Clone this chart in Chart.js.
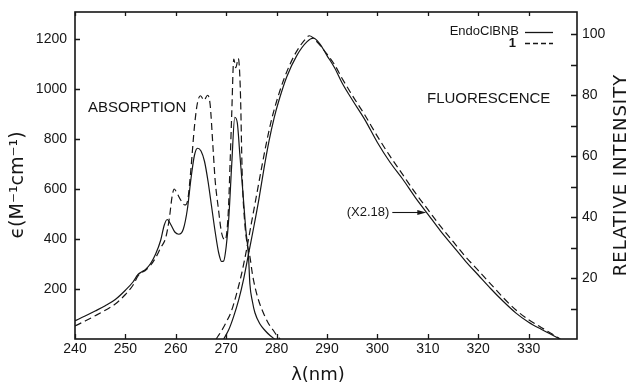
<!DOCTYPE html>
<html>
<head>
<meta charset="utf-8">
<script src="https://cdn.jsdelivr.net/npm/chart.js@4"></script>
<style>
  html, body { margin: 0; padding: 0; background: #fff; }
  #chart { display: block; }
</style>
</head>
<body>
<canvas id="chart" width="631" height="383"></canvas>
<script>
// absorption, EndoClBNB (solid) and 1 (dashed), epsilon in M^-1 cm^-1
const absSolidNm  = [240, 242, 244, 246, 248, 250, 251.5, 252.5, 253.2, 254, 255, 256, 257, 257.7, 258.3, 259, 259.8, 260.6, 261.5, 262.3, 263, 263.7, 264.3, 265, 265.7, 266.4, 267.1, 267.8, 268.5, 269.1, 269.5, 270, 270.5, 271.1, 271.7, 272.2, 272.7, 273.3, 273.9, 274.4, 274.7, 275.2, 275.7, 276.7, 277.7, 278.7, 279.6];
const absSolidEps = [73, 92, 112, 133, 158, 195, 228, 258, 268, 278, 302, 340, 395, 455, 478, 458, 428, 419, 440, 520, 640, 735, 763, 752, 710, 630, 530, 430, 345, 310, 312, 370, 480, 700, 887, 865, 740, 590, 436, 340, 220, 150, 105, 60, 34, 14, 0];

const absDashNm  = [240, 242, 244, 246, 248, 250, 251.5, 252.5, 253.2, 254, 255, 256, 257, 258, 258.7, 259.3, 259.7, 260.2, 261, 261.8, 262.4, 263, 263.7, 264.3, 264.9, 265.6, 266.3, 266.8, 267.4, 267.8, 268.4, 269.1, 269.8, 270.4, 270.8, 271.1, 271.5, 271.9, 272.4, 272.8, 273.2, 273.7, 274.2, 274.7, 275.2, 275.7, 276.5, 277.4, 278.3, 279.3, 280, 280.7];
const absDashEps = [52, 72, 93, 115, 140, 178, 215, 252, 265, 275, 295, 325, 365, 405, 480, 575, 600, 585, 555, 536, 560, 680, 850, 945, 973, 955, 975, 940, 760, 636, 529, 423, 396, 503, 720, 903, 1120, 1085, 1122, 1000, 640, 460, 375, 330, 260, 209, 150, 103, 65, 36, 15, 0];

// fluorescence, relative intensity
const fluSolidNm  = [269.5, 270.5, 271.5, 272.5, 273.5, 274.5, 275.5, 276.5, 277.5, 278.5, 279.5, 280.5, 282, 284, 286, 287.3, 288.5, 290, 291.5, 293, 295, 297.5, 300, 302.5, 305, 307.5, 310, 312.5, 315, 317.5, 320, 322.5, 325, 327.5, 330, 332.5, 334.5, 336.2];
const fluSolidInt = [0, 3, 7.5, 13, 20, 28.5, 37, 46, 56, 65, 72.5, 78.5, 86, 93, 97.5, 98.7, 97, 93, 89, 84, 78.5, 72, 64.5, 58, 52.5, 46.5, 41, 35.5, 30.5, 25.5, 21, 16.5, 12.3, 8.5, 5.5, 3.2, 1.5, 0];

const fluDashNm  = [268, 269, 270, 271, 272, 273, 274, 275, 276, 277, 278, 279, 280, 281.5, 283.5, 285.5, 286.5, 288, 290, 291.5, 293, 295, 297.5, 300, 302.5, 305, 307.5, 310, 312.5, 315, 317.5, 320, 322.5, 325, 327.5, 330, 332.5, 334.5, 336.3];
const fluDashInt = [0, 2.5, 5.5, 9, 14.5, 21, 29, 38, 47, 56, 64.5, 72, 78, 85.5, 93, 98, 99.5, 97.5, 93.5, 90, 85.5, 80, 73.5, 66.5, 60, 54, 48, 42.5, 37, 32, 27, 22.5, 18, 13.5, 9.5, 6.3, 3.8, 1.8, 0];

// axis ticks
const xTicks = [240, 250, 260, 270, 280, 290, 300, 310, 320, 330];
const leftTicks = [200, 400, 600, 800, 1000, 1200];
const rightTicks = [10, 20, 30, 40, 50, 60, 70, 80, 90, 100];
const rightLabels = [20, 40, 60, 80, 100];

const seriesNames = ['EndoClBNB', '1'];
const arrowAt = { nm: 309.7, val: 41.6, label: '(X2.18)' };

function pts(xs, ys) {
  return xs.map(function(x, i) { return { x: x, y: ys[i] }; });
}

const INK = '#161616';

const framePlugin = {
  id: 'frame',
  afterDraw: function(chart) {
    const ctx = chart.ctx;
    const a = chart.chartArea;
    const sx = chart.scales.x, sy = chart.scales.y, sr = chart.scales.y1;
    ctx.save();
    ctx.strokeStyle = INK;
    ctx.fillStyle = INK;

    // box
    ctx.lineWidth = 1.6;
    ctx.strokeRect(a.left, a.top, a.right - a.left, a.bottom - a.top);

    // inward ticks
    ctx.lineWidth = 1.3;
    ctx.beginPath();
    xTicks.forEach(function(v) {
      const px = Math.round(sx.getPixelForValue(v)) + 0.5;
      ctx.moveTo(px, a.bottom); ctx.lineTo(px, a.bottom - 5);
      ctx.moveTo(px, a.top); ctx.lineTo(px, a.top + 4);
    });
    leftTicks.forEach(function(v) {
      const py = Math.round(sy.getPixelForValue(v)) + 0.5;
      ctx.moveTo(a.left, py); ctx.lineTo(a.left + 5, py);
    });
    rightTicks.forEach(function(v) {
      const py = Math.round(sr.getPixelForValue(v)) + 0.5;
      ctx.moveTo(a.right, py); ctx.lineTo(a.right - 6, py);
    });
    ctx.stroke();

    // tick labels
    ctx.font = '14px "Liberation Sans", Arial, sans-serif';
    ctx.textBaseline = 'middle';
    ctx.textAlign = 'center';
    xTicks.forEach(function(v) {
      ctx.fillText(String(v), sx.getPixelForValue(v), a.bottom + 10);
    });
    ctx.textAlign = 'right';
    leftTicks.forEach(function(v) {
      ctx.fillText(String(v), a.left - 8, sy.getPixelForValue(v));
    });
    ctx.textAlign = 'left';
    rightLabels.forEach(function(v) {
      ctx.fillText(String(v), a.right + 5, sr.getPixelForValue(v));
    });

    // axis titles
    ctx.font = '18px "DejaVu Sans", sans-serif';
    ctx.textAlign = 'center';
    ctx.fillText('λ(nm)', 318, 375);

    ctx.save();
    ctx.translate(18, 185);
    ctx.rotate(-Math.PI / 2);
    ctx.font = '19px "DejaVu Sans", sans-serif';
    ctx.fillText('ϵ(M⁻¹cm⁻¹)', 0, 0);
    ctx.restore();

    ctx.save();
    ctx.translate(621, 175);
    ctx.rotate(-Math.PI / 2);
    ctx.font = '18px "DejaVu Sans", sans-serif';
    ctx.letterSpacing = '1px';
    ctx.fillText('RELATIVE INTENSITY', 0, 0);
    ctx.restore();

    // panel labels
    ctx.font = '15px "Liberation Sans", Arial, sans-serif';
    ctx.textAlign = 'left';
    ctx.fillText('ABSORPTION', 88, 108);
    ctx.fillText('FLUORESCENCE', 427, 99);

    // legend
    ctx.font = '13px "Liberation Sans", Arial, sans-serif';
    ctx.textAlign = 'right';
    ctx.fillText(seriesNames[0], 519, 31);
    ctx.font = 'bold 13px "Liberation Sans", Arial, sans-serif';
    ctx.fillText(seriesNames[1], 516, 43);
    ctx.lineWidth = 1.3;
    ctx.beginPath();
    ctx.moveTo(525, 32.5); ctx.lineTo(553, 32.5);
    ctx.stroke();
    ctx.setLineDash([5, 3]);
    ctx.beginPath();
    ctx.moveTo(525, 43.5); ctx.lineTo(553, 43.5);
    ctx.stroke();
    ctx.setLineDash([]);

    // scale factor arrow
    const tipX = sx.getPixelForValue(arrowAt.nm);
    const tipY = Math.round(sr.getPixelForValue(arrowAt.val)) + 0.5;
    ctx.lineWidth = 1.1;
    ctx.beginPath();
    ctx.moveTo(tipX - 34, tipY); ctx.lineTo(tipX - 6, tipY);
    ctx.stroke();
    ctx.beginPath();
    ctx.moveTo(tipX, tipY);
    ctx.lineTo(tipX - 9, tipY - 2.5);
    ctx.lineTo(tipX - 9, tipY + 2.5);
    ctx.closePath();
    ctx.fill();
    ctx.font = '13px "Liberation Sans", Arial, sans-serif';
    ctx.textAlign = 'right';
    ctx.fillText(arrowAt.label, tipX - 37, tipY);

    ctx.restore();
  }
};

function lineSet(label, data, axis, dashed) {
  return {
    label: label,
    data: data,
    yAxisID: axis,
    borderColor: INK,
    borderWidth: 1.2,
    borderDash: dashed ? [7, 4] : [],
    pointRadius: 0,
    fill: false,
    cubicInterpolationMode: 'monotone'
  };
}

new Chart(document.getElementById('chart').getContext('2d'), {
  type: 'line',
  data: {
    datasets: [
      lineSet(seriesNames[0] + ' abs', pts(absSolidNm, absSolidEps), 'y', false),
      lineSet(seriesNames[1] + ' abs', pts(absDashNm, absDashEps), 'y', true),
      lineSet(seriesNames[0] + ' fl', pts(fluSolidNm, fluSolidInt), 'y1', false),
      lineSet(seriesNames[1] + ' fl', pts(fluDashNm, fluDashInt), 'y1', true)
    ]
  },
  options: {
    responsive: false,
    animation: false,
    devicePixelRatio: 1,
    layout: { padding: { left: 75, top: 12, right: 54, bottom: 44 } },
    plugins: {
      legend: { display: false },
      tooltip: { enabled: false }
    },
    scales: {
      x: { type: 'linear', min: 240, max: 339.6, display: false },
      y: { type: 'linear', position: 'left', min: 0, max: 1308, display: false },
      y1: { type: 'linear', position: 'right', min: 0, max: 107.3, display: false }
    }
  },
  plugins: [framePlugin]
});
</script>
</body>
</html>
